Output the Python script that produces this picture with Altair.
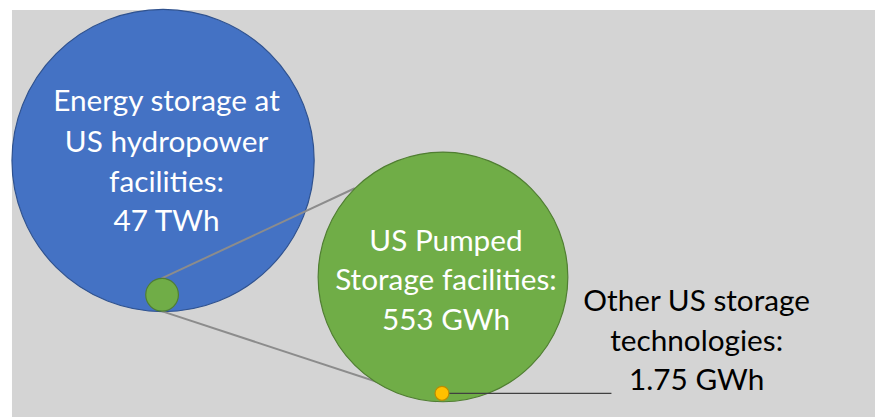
import altair as alt
import pandas as pd

# ---- data (diagram content) ----
names = ["Energy storage at US hydropower facilities", "US Pumped Storage facilities", "Other US storage technologies"]
amounts = ["47 TWh", "553 GWh", "1.75 GWh"]
blue_lines = ["Energy storage at", "US hydropower", "facilities:", "47 TWh"]
green_lines = ["US Pumped", "Storage facilities:", "553 GWh"]
other_lines = ["Other US storage", "technologies:", "1.75 GWh"]

# ---- layout (page pixel coordinates) ----
circle_x = [164.5, 447, 163.5, 446]
circle_y = [160, 277.5, 295.5, 395]
circle_d = [305, 252, 33, 14]
circle_fill = ["#4472c4", "#70ad47", "#70ad47", "#ffc000"]
circle_stroke = ["#2f528f", "#507e32", "#507e32", "#bc8c00"]

W, H = 875, 411
xs = alt.Scale(domain=[8, 8 + W], nice=False, zero=False)
ys = alt.Scale(domain=[8, 8 + H], nice=False, zero=False, reverse=True)
X = lambda f: alt.X(f, type="quantitative", scale=xs, axis=None)
Y = lambda f: alt.Y(f, type="quantitative", scale=ys, axis=None)

bg = alt.Chart(pd.DataFrame({"x": [12], "x2": [883], "y": [7], "y2": [419]})).mark_rect(
    color="#d4d4d4", clip=True
).encode(x=X("x"), x2="x2", y=Y("y"), y2="y2")

circles = pd.DataFrame({
    "x": circle_x, "y": circle_y,
    "size": [d * d for d in circle_d],
    "fill": circle_fill, "stroke": circle_stroke, "order": [0, 2, 3, 4],
})

def circ(i):
    return alt.Chart(circles.iloc[[i]]).mark_point(
        shape="circle", filled=True, opacity=1,
        fill=circle_fill[i], stroke=circle_stroke[i], strokeWidth=1.2
    ).encode(x=X("x"), y=Y("y"), size=alt.Size("size:Q", scale=None, legend=None))

grey_links = pd.DataFrame({
    "x": [163, 163], "y": [279, 312], "x2": [358, 440], "y2": [188, 403]
})
links = alt.Chart(grey_links).mark_rule(color="#8c8c8c", strokeWidth=2).encode(
    x=X("x"), y=Y("y"), x2="x2", y2="y2")

leader = alt.Chart(pd.DataFrame({"x": [452], "y": [395], "x2": [617], "y2": [395]})).mark_rule(
    color="#404040", strokeWidth=1.2).encode(x=X("x"), y=Y("y"), x2="x2", y2="y2")

def text_block(lines, cx, ys_, color):
    df = pd.DataFrame({"t": lines, "x": [cx] * len(lines), "y": ys_})
    return alt.Chart(df).mark_text(
        font="Lato", fontSize=30, color=color, align="center", baseline="middle"
    ).encode(x=X("x"), y=Y("y"), text="t:N")

t1 = text_block(blue_lines, 168, [101, 142, 183, 222], "white")
t2 = text_block(green_lines, 450, [242, 282, 322], "white")
t3 = text_block(other_lines, 703, [303, 343, 383], "black")

chart = alt.layer(
    bg, circ(0), links, circ(1), circ(2), leader, circ(3), t1, t2, t3
).properties(width=W, height=H, padding=0, autosize="none").configure_view(stroke=None)

chart.save("out.html", embed_options={"renderer": "svg", "actions": False})
